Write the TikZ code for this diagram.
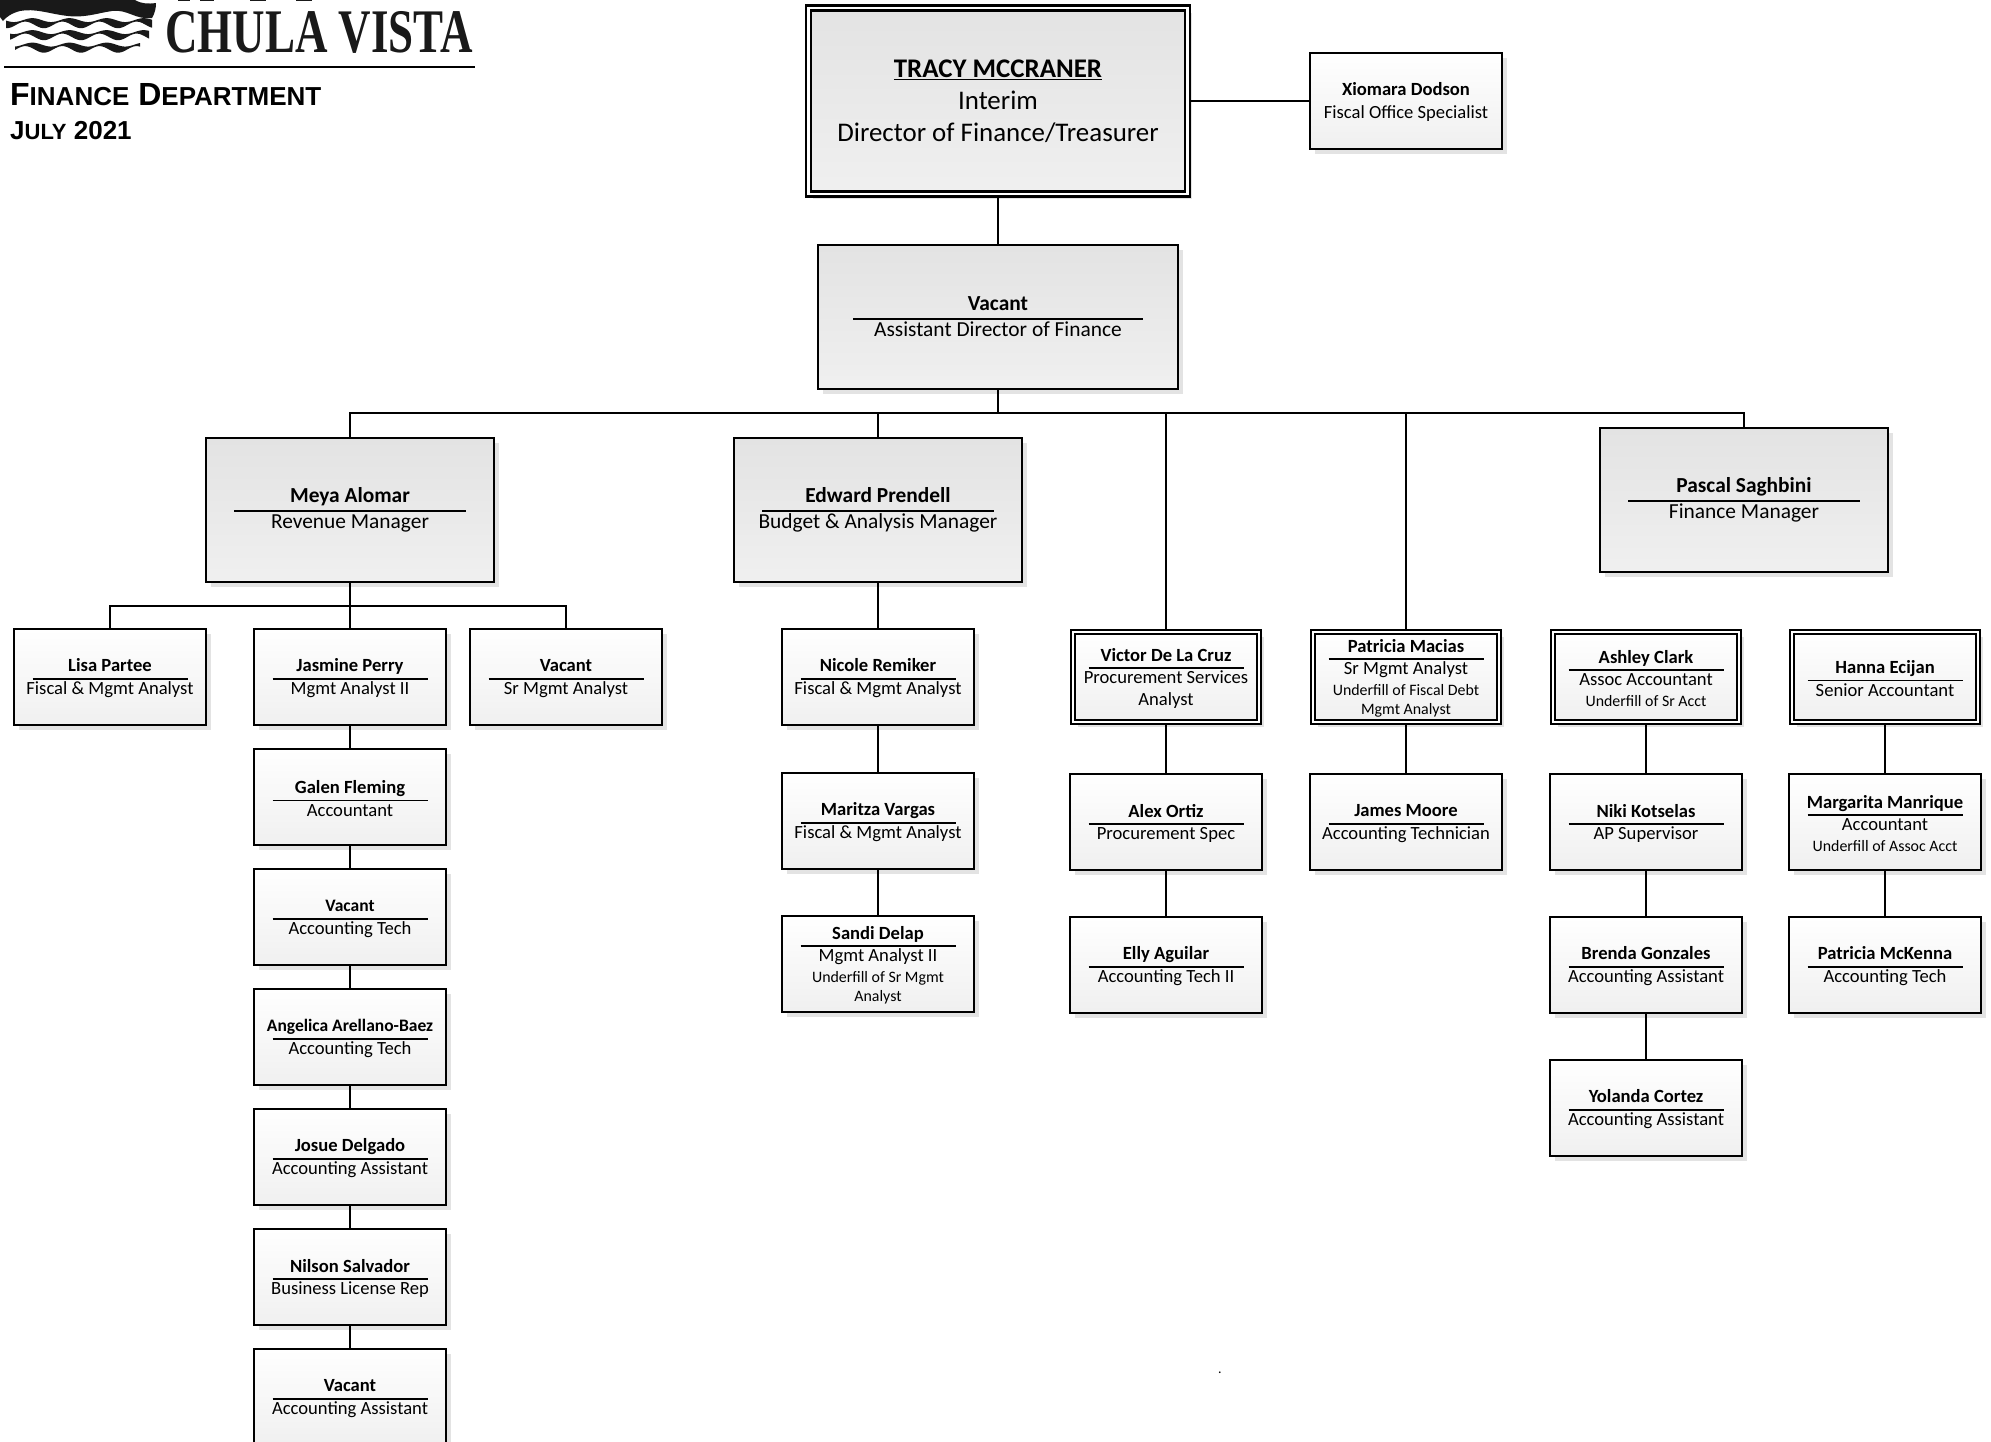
\documentclass[tikz,border=0pt]{standalone}
\usepackage{fontspec}
\setmainfont{Carlito}
\newfontfamily\headfont{Liberation Sans}
\newfontfamily\logofont{Liberation Serif}
\usepackage{tikz}
\usetikzlibrary{positioning,shadows}
\definecolor{shadowgray}{gray}{0.89}
\newcommand{\persup}{0pt}
\newcommand{\pers}[3][155pt]{\rule{0pt}{\persup}{\bfseries #2}\\[\dimexpr.42em-20pt\relax]\rule{#1}{1.8pt}\\[\dimexpr.8em-20pt\relax]#3}
\newcommand{\uf}[1]{{\fontsize{15.9}{20}\selectfont #1}}
\tikzset{
    card/.style={
        rectangle,
        draw=black,
        line width=2pt,
        align=center,
        inner sep=0pt,
        outer sep=0pt,
        text=black,
        drop shadow={shadow xshift=4.5pt,shadow yshift=-4.5pt,fill=shadowgray,opacity=1},
    },
    smallbox/.style={
        card,
        minimum width=192pt,
        minimum height=96pt,
        top color=white,
        bottom color=black!6,
        font=\fontsize{18.6}{20}\selectfont\def\persup{.85em},
    },
    bigbox/.style={
        card,
        minimum width=288pt,
        minimum height=144pt,
        top color=black!11,
        bottom color=black!6,
        font=\fontsize{21.4}{20}\selectfont,
    },
    dblbox/.style={
        smallbox,
        double,
        line width=1.8pt,
        double distance=2.4pt,
        minimum width=186pt,
        minimum height=90pt,
        outer sep=3pt,
    },
    link/.style={draw=black,line width=2pt},
    wave/.style={fill=black!90,draw=none},
}
\begin{document}
\begin{tikzpicture}[x=1pt,y=-1pt]
    \useasboundingbox (0,0) rectangle (1991,1441);
    % logo
    \fill[wave] (0,0) -- (135,0) .. controls (142,4) and (148,4) .. (156,3)
        .. controls (156,8) and (155,13) .. (152,18) .. controls (135,20) and (128,9) .. (112,11)
        .. controls (98,13) and (85,18) .. (68,16) .. controls (50,14) and (35,8) .. (20,11)
        .. controls (12,13) and (6,17) .. (3,21) -- (0,17) -- cycle;
    \foreach \ya/\xa/\xb in {22.5/6/152,34.5/10/149,47/15/140}{
        \fill[wave] plot[domain=\xa:\xb,samples=60,smooth] (\x,{\ya+2.2*sin(9.7*\x)-0.8-1.6*(1+sin(9.7*\x+60))})
            -- plot[domain=\xb:\xa,samples=60,smooth] (\x,{\ya+2.2*sin(9.7*\x)+0.8+1.6*(1+sin(9.7*\x+60))}) -- cycle;
    }
    \foreach \xa/\xb in {178/190,200/214,250/266,296/312}{
        \fill[black!90] (\xa,0) rectangle (\xb,1);
    }
    \node [anchor=base west,inner sep=0pt,font=\logofont\bfseries\fontsize{62}{62}\selectfont,text=black!90] (logoname) at (165,52) {\scalebox{0.725}[1]{CHULA VISTA}};
    \coordinate (ruleleft) at (4,67);
    \coordinate (ruleright) at (475,67);
    \draw [link] (ruleleft) -- (ruleright);
    \node [anchor=base west,inner sep=0pt,font=\headfont\bfseries\fontsize{32}{32}\selectfont] (dept) at (10,105) {F{\fontsize{26}{26}\selectfont INANCE} D{\fontsize{26}{26}\selectfont EPARTMENT}};
    \node [anchor=base west,inner sep=0pt,font=\headfont\bfseries\fontsize{26}{26}\selectfont] (month) at (10,139) {J{\fontsize{22}{22}\selectfont ULY} 2021};

    % top of the tree
    \node [bigbox,double,line width=2.3pt,double distance=2.8pt,minimum width=379pt,minimum height=186pt,outer sep=3.7pt,font=\fontsize{26.9}{32}\selectfont] (director) at (998,101) {{\bfseries\underline{TRACY MCCRANER}}\\Interim\\Director of Finance/Treasurer};
    \node [smallbox] (xiomara) at (1406,101) {\rule{0pt}{\persup}{\bfseries Xiomara Dodson}\\[3pt]Fiscal Office Specialist};
    \node [bigbox,minimum width=360pt] (assistant) at (998,317) {\pers[290pt]{Vacant}{Assistant Director of Finance}};

    % managers
    \node [bigbox] (meya) at (350,510) {\pers[232pt]{Meya Alomar}{Revenue Manager}};
    \node [bigbox] (edward) at (878,510) {\pers[232pt]{Edward Prendell}{Budget \& Analysis Manager}};
    \node [bigbox] (pascal) at (1744,500) {\pers[232pt]{Pascal Saghbini}{Finance Manager}};

    % revenue
    \node [smallbox] (lisa) at (110,677) {\pers{Lisa Partee}{Fiscal \& Mgmt Analyst}};
    \node [smallbox] (jasmine) [right=48pt of lisa] {\pers{Jasmine Perry}{Mgmt Analyst II}};
    \node [smallbox] (srvacant) [right=24pt of jasmine] {\pers{Vacant}{Sr Mgmt Analyst}};
    \node [smallbox] (galen) [below=24pt of jasmine] {\pers{Galen Fleming}{Accountant}};
    \node [smallbox] (techvacant) [below=24pt of galen] {\pers{\fontsize{17.5}{20}\selectfont Vacant}{Accounting Tech}};
    \node [smallbox] (angelica) [below=24pt of techvacant] {\pers{\fontsize{17.5}{20}\selectfont Angelica Arellano-Baez}{Accounting Tech}};
    \node [smallbox] (josue) [below=24pt of angelica] {\pers{Josue Delgado}{Accounting Assistant}};
    \node [smallbox] (nilson) [below=24pt of josue] {\pers{Nilson Salvador}{Business License Rep}};
    \node [smallbox] (asstvacant) [below=24pt of nilson] {\pers{Vacant}{Accounting Assistant}};

    % budget
    \node [smallbox] (nicole) at (878,677) {\pers{Nicole Remiker}{Fiscal \& Mgmt Analyst}};
    \node [smallbox] (maritza) [below=48pt of nicole] {\pers{Maritza Vargas}{Fiscal \& Mgmt Analyst}};
    \node [smallbox] (sandi) [below=47pt of maritza] {\pers{Sandi Delap}{Mgmt Analyst II\\[1pt]\uf{Underfill of Sr Mgmt}\\[-1pt]\uf{Analyst}}};

    % procurement
    \node [dblbox] (victor) at (1166,677) {\pers{Victor De La Cruz}{Procurement Services\\[2pt]Analyst}};
    \node [smallbox] (alex) [below=49pt of victor] {\pers{Alex Ortiz}{Procurement Spec}};
    \node [smallbox] (elly) [below=47pt of alex] {\pers{Elly Aguilar}{Accounting Tech II}};

    % debt
    \node [dblbox] (patricia) at (1406,677) {\pers{Patricia Macias}{Sr Mgmt Analyst\\[1pt]\uf{Underfill of Fiscal Debt}\\[-1pt]\uf{Mgmt Analyst}}};
    \node [smallbox] (james) [below=49pt of patricia] {\pers{James Moore}{Accounting Technician}};

    % finance
    \node [dblbox] (ashley) at (1646,677) {\pers{Ashley Clark}{Assoc Accountant\\[1pt]\uf{Underfill of Sr Acct}}};
    \node [smallbox] (niki) [below=49pt of ashley] {\pers{Niki Kotselas}{AP Supervisor}};
    \node [smallbox] (brenda) [below=47pt of niki] {\pers{Brenda Gonzales}{Accounting Assistant}};
    \node [smallbox] (yolanda) [below=47pt of brenda] {\pers{Yolanda Cortez}{Accounting Assistant}};
    \node [dblbox] (hanna) at (1885,677) {\pers{Hanna Ecijan}{Senior Accountant}};
    \node [smallbox] (margarita) [below=49pt of hanna] {\pers{Margarita Manrique}{Accountant\\[1pt]\uf{Underfill of Assoc Acct}}};
    \node [smallbox] (mckenna) [below=47pt of margarita] {\pers{Patricia McKenna}{Accounting Tech}};

    \node [inner sep=0pt,font=\fontsize{14}{14}\selectfont] (stray) at (1220,1373) {.};

    % bus lines
    \coordinate (mainbus) at (998,413);
    \coordinate (revbus) at (350,606);
    \coordinate (victorbus) at (1166,413);
    \coordinate (patriciabus) at (1406,413);

    \draw [link] (director.east |- xiomara.west) -- (xiomara.west);
    \draw [link] (director.south) -- (assistant.north);
    \draw [link] (assistant.south) -- (mainbus);
    \draw [link] (mainbus) -| (meya.north);
    \draw [link] (mainbus) -| (edward.north);
    \draw [link] (mainbus) -| (pascal.north);
    \draw [link] (victorbus) -- (victor.north);
    \draw [link] (patriciabus) -- (patricia.north);

    \draw [link] (meya.south) -- (jasmine.north);
    \draw [link] (revbus) -| (lisa.north);
    \draw [link] (revbus) -| (srvacant.north);
    \draw [link] (jasmine) -- (galen);
    \draw [link] (galen) -- (techvacant);
    \draw [link] (techvacant) -- (angelica);
    \draw [link] (angelica) -- (josue);
    \draw [link] (josue) -- (nilson);
    \draw [link] (nilson) -- (asstvacant);

    \draw [link] (edward) -- (nicole);
    \draw [link] (nicole) -- (maritza);
    \draw [link] (maritza) -- (sandi);
    \draw [link] (victor) -- (alex);
    \draw [link] (alex) -- (elly);
    \draw [link] (patricia) -- (james);
    \draw [link] (ashley) -- (niki);
    \draw [link] (niki) -- (brenda);
    \draw [link] (brenda) -- (yolanda);
    \draw [link] (hanna) -- (margarita);
    \draw [link] (margarita) -- (mckenna);
\end{tikzpicture}
\end{document}
